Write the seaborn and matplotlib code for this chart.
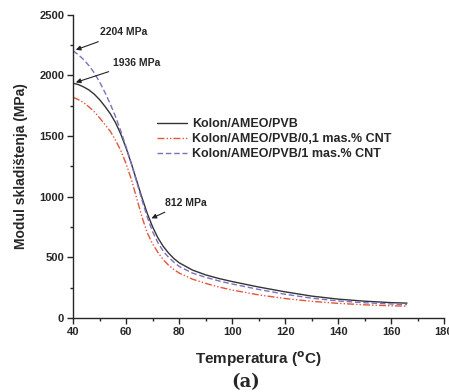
import numpy as np
import pandas as pd
import matplotlib
matplotlib.use('Agg')
import matplotlib.pyplot as plt
import seaborn as sns
from matplotlib.ticker import MultipleLocator

# Data
temp = [40, 42, 44, 46, 48, 50, 52, 54, 56, 58, 60, 62, 64, 66, 68, 70, 72, 74, 76, 78, 80,
        85, 90, 95, 100, 110, 120, 130, 140, 150, 160, 166]
e_base = [1936, 1925, 1905, 1880, 1845, 1800, 1745, 1685, 1610, 1515, 1400, 1270, 1130, 990, 860, 750,
          660, 590, 535, 490, 455, 395, 355, 325, 300, 255, 215, 180, 155, 138, 126, 122]
e_01cnt = [1820, 1800, 1775, 1740, 1700, 1650, 1595, 1540, 1465, 1380, 1270, 1140, 985, 830, 700, 610,
           540, 480, 435, 400, 370, 320, 285, 255, 230, 190, 160, 137, 120, 108, 100, 97]
e_1cnt = [2204, 2170, 2130, 2080, 2020, 1945, 1860, 1765, 1660, 1540, 1410, 1270, 1120, 970, 830, 710,
          620, 550, 500, 460, 425, 370, 335, 305, 280, 235, 195, 163, 140, 125, 115, 110]
labels = ['Kolon/AMEO/PVB', 'Kolon/AMEO/PVB/0,1 mas.% CNT', 'Kolon/AMEO/PVB/1 mas.% CNT']

df = pd.DataFrame({'T': temp * 3,
                   'E': e_base + e_01cnt + e_1cnt,
                   'sample': [labels[0]] * len(temp) + [labels[1]] * len(temp) + [labels[2]] * len(temp)})

sns.set_style('ticks')
plt.rcParams['font.family'] = ['Liberation Sans', 'DejaVu Sans']

fig = plt.figure(figsize=(4.49, 3.92), dpi=100)
ax = fig.add_axes([0.163, 0.189, 0.826, 0.773])

colors = {labels[0]: '#333333', labels[1]: '#e5553a', labels[2]: '#7c70c4'}
dashes = {labels[1]: (5, 1.5, 1, 1.5, 1, 1.5), labels[2]: (4, 2)}
for lab in labels:
    sub = df[df['sample'] == lab]
    sns.lineplot(data=sub, x='T', y='E', ax=ax, color=colors[lab], lw=1.0, label=lab)
    if lab in dashes:
        ax.lines[-1].set_dashes(dashes[lab])

ax.set_xlim(40, 180)
ax.set_ylim(0, 2500)
ax.xaxis.set_major_locator(MultipleLocator(20))
ax.xaxis.set_minor_locator(MultipleLocator(10))
ax.yaxis.set_major_locator(MultipleLocator(500))
ax.yaxis.set_minor_locator(MultipleLocator(250))
ax.tick_params(which='major', length=4, width=1, labelsize=8, direction='out', pad=2.5)
ax.tick_params(which='minor', length=2.5, width=1, direction='out')
for t in ax.get_xticklabels() + ax.get_yticklabels():
    t.set_fontweight('bold')
for s in ['top', 'right']:
    ax.spines[s].set_visible(False)
for s in ['left', 'bottom']:
    ax.spines[s].set_linewidth(1)

ax.set_xlabel('Temperatura ($\\mathbf{^{o}}$C)', fontsize=11, fontweight='bold', labelpad=9)
ax.set_ylabel('Modul skladištenja (MPa)', fontsize=10, fontweight='bold', labelpad=8)

leg = ax.legend(loc='center left', bbox_to_anchor=(0.226, 0.59), frameon=False, fontsize=9,
                handlelength=2.4, handletextpad=0.4, labelspacing=0.25, borderaxespad=0, borderpad=0)
for t in leg.get_texts():
    t.set_fontweight('bold')

arrow = dict(arrowstyle='-|>', color='#222222', lw=0.8, mutation_scale=7)
ax.annotate('2204 MPa', xy=(40, e_1cnt[0]), xytext=(50.2, 2355), fontsize=7.5, fontweight='bold',
            arrowprops=arrow, va='center')
ax.annotate('1936 MPa', xy=(40, e_base[0]), xytext=(55, 2107), fontsize=7.5, fontweight='bold',
            arrowprops=arrow, va='center')
ax.annotate('812 MPa', xy=(68.6, 812), xytext=(74.5, 950), fontsize=7.5, fontweight='bold',
            arrowprops=arrow, va='center')

fig.text(0.546, 0.012, '(a)', fontsize=13, fontweight='bold', family='DejaVu Serif', ha='center')

fig.savefig('out.png', dpi=100)
